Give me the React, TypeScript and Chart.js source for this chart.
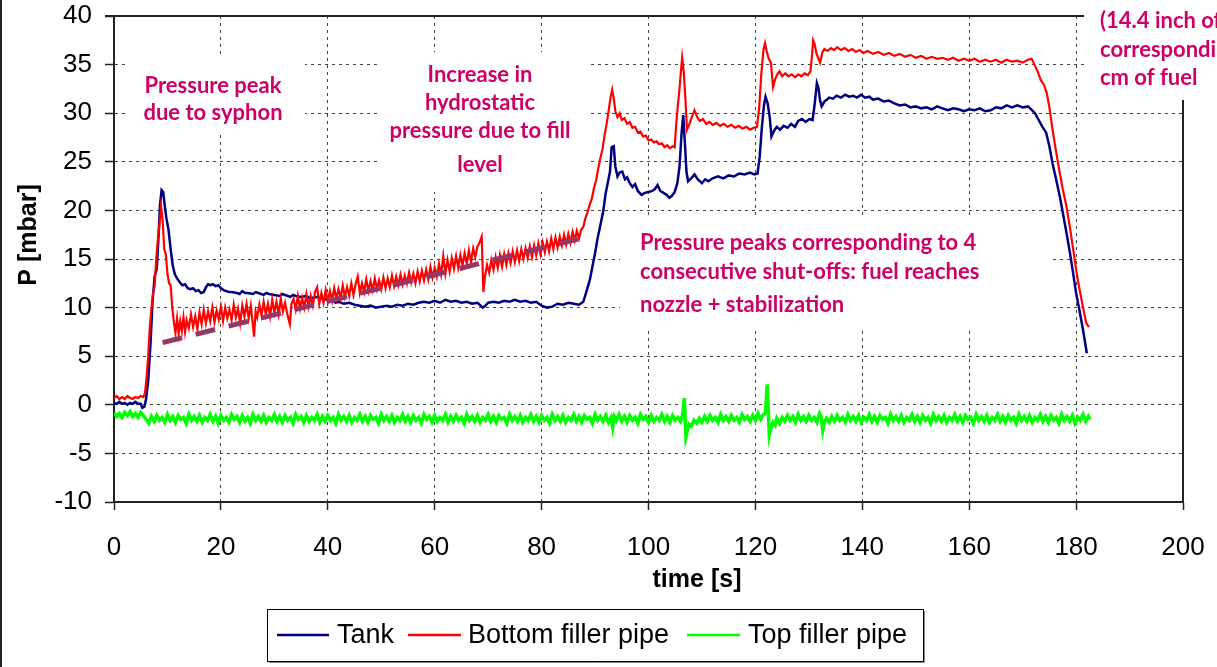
import React, { useEffect, useRef } from 'react';
import { Chart, registerables } from 'chart.js';

Chart.register(...registerables);

// ---------- data ----------
const seriesNames = ['Tank', 'Bottom filler pipe', 'Top filler pipe'];
const seriesColors = ['#000080', '#FF0000', '#00FF00'];
const trendColor = '#94386A';

const xTickValues = [0, 20, 40, 60, 80, 100, 120, 140, 160, 180, 200];
const yTickValues = [-10, -5, 0, 5, 10, 15, 20, 25, 30, 35, 40];

const tankSeries: [number, number][] = [
  [0, 0.2], [0.5, 0.1], [1, 0.3], [1.5, 0.1], [2, 0.2], [2.5, 0.0], [3, 0.2], [3.5, 0.1], [4, 0.3], [4.5, 0.1],
  [5, 0.1], [5.3, -0.3], [5.7, -0.2], [6, 0.6], [6.4, 2.5], [6.8, 6], [7.2, 10.5], [7.6, 13.2], [8, 14], [8.3, 17],
  [8.6, 20.5], [8.9, 22.1], [9.2, 21.9], [9.5, 20.5], [9.8, 19.2], [10.2, 18], [10.6, 16], [11, 14.3], [11.4, 13.4], [11.8, 13],
  [12.3, 12.6], [12.8, 12.3], [13.3, 12.4], [13.8, 12], [14.3, 11.9], [14.8, 12], [15.3, 11.7], [15.8, 11.8], [16.3, 11.5], [16.8, 11.6],
  [17.2, 12.1], [17.6, 12.4], [18, 12.3], [18.5, 12.4], [19, 12.2], [19.5, 12.3], [20, 12.0], [20.5, 11.8], [21, 11.7], [21.5, 11.6],
  [22, 11.6], [23, 11.5], [23.5, 11.4], [24, 11.7], [24.5, 11.5], [25, 11.5], [26, 11.4], [26.5, 11.6], [27, 11.5], [28, 11.3],
  [28.5, 11.5], [29, 11.4], [30, 11.3], [31, 11.2], [31.5, 11.4], [32, 11.3], [33, 11.1], [33.5, 11.3], [34, 11.2], [35, 11.1],
  [36, 11.2], [36.5, 11.0], [37, 11.0], [38, 11.1], [39, 10.9], [40, 10.8], [41, 10.7], [41.5, 10.5], [42, 10.6], [43, 10.4],
  [44, 10.5], [45, 10.3], [46, 10.2], [47, 10.1], [48, 10.2], [49, 10.0], [50, 10.1], [51, 10.2], [52, 10.1], [53, 10.3],
  [54, 10.2], [55, 10.4], [56, 10.3], [57, 10.5], [58, 10.6], [59, 10.5], [60, 10.7], [61, 10.5], [62, 10.8], [63, 10.6],
  [64, 10.7], [65, 10.5], [66, 10.6], [67, 10.4], [68, 10.5], [69, 10.0], [69.5, 10.2], [70, 10.5], [71, 10.6], [72, 10.5],
  [73, 10.7], [74, 10.6], [75, 10.8], [76, 10.6], [77, 10.7], [78, 10.5], [79, 10.6], [80, 10.2], [81, 10.0], [82, 10.1],
  [83, 10.4], [84, 10.3], [85, 10.5], [86, 10.4], [87, 10.3], [87.8, 10.6], [88.3, 11.5], [89, 12.8], [89.5, 14.2], [90, 15.6],
  [90.5, 17.2], [91, 18.5], [91.5, 19.8], [92, 21.8], [92.4, 22.9], [92.8, 24], [93.1, 26.5], [93.5, 26.6], [93.8, 24.5], [94.2, 23.5],
  [94.6, 23.9], [95.1, 24], [95.6, 23.2], [96, 23.4], [96.5, 22.8], [97, 22.4], [97.5, 22.7], [98, 22], [98.7, 21.6], [99.3, 21.8],
  [100, 21.9], [100.7, 22], [101.2, 22.2], [101.7, 22.6], [102.2, 22], [102.8, 21.8], [103.4, 21.6], [103.9, 21.3], [104.4, 21.5], [104.9, 21.9],
  [105.4, 22.8], [105.8, 24.5], [106.2, 28], [106.5, 29.8], [106.8, 27], [107.1, 24], [107.4, 23], [108, 23.3], [108.6, 23.7], [109.2, 23.2],
  [110, 22.8], [110.6, 23.2], [111.2, 23], [112, 23.3], [113, 23.5], [114, 23.3], [115, 23.6], [116, 23.5], [117, 23.8], [118, 23.7],
  [119, 23.9], [119.8, 23.7], [120.4, 23.8], [120.8, 25.5], [121.2, 28.5], [121.6, 30.8], [121.9, 31.7], [122.3, 31], [122.7, 29.5], [123, 27.6],
  [123.5, 28.2], [124, 28.6], [124.6, 28.3], [125.3, 28.7], [126, 28.5], [126.7, 28.9], [127.4, 28.6], [128, 29.2], [128.7, 29.4], [129.4, 29.1],
  [130.1, 29.4], [130.7, 29.3], [131.1, 31], [131.5, 33.1], [131.8, 32.6], [132.1, 31.3], [132.4, 30.7], [132.9, 31.2], [133.4, 31.4], [133.8, 31.6],
  [134.5, 31.5], [135.2, 31.8], [136, 31.6], [136.8, 31.9], [137.5, 31.7], [138.3, 31.8], [139, 31.6], [139.8, 31.9], [140.5, 31.6], [141.3, 31.7],
  [142, 31.4], [143, 31.5], [144, 31.2], [145, 31.3], [146, 31.0], [147, 30.8], [148, 30.9], [149, 30.6], [150, 30.7], [151, 30.5],
  [152, 30.6], [153, 30.4], [154, 30.7], [155, 30.5], [156, 30.3], [157, 30.5], [158, 30.4], [159, 30.2], [160, 30.4], [161, 30.3],
  [162, 30.5], [163, 30.2], [164, 30.3], [165, 30.6], [166, 30.5], [167, 30.8], [168, 30.6], [169, 30.8], [170, 30.6], [171, 30.7],
  [171.6, 30.4], [172.3, 30], [173, 29.3], [173.7, 28.6], [174.4, 28], [175, 26.6], [175.6, 24.8], [176.3, 23.1], [177, 21.3], [177.6, 19.5],
  [178.2, 17.7], [178.8, 15.8], [179.4, 13.7], [180, 11.5], [180.6, 9.8], [181.2, 8], [181.6, 6.7], [182, 5.3],
];

const bottomSeries: [number, number][] = [
  [0, 0.7], [0.5, 0.9], [1, 0.6], [1.5, 0.8], [2, 0.6], [2.5, 0.9], [3, 0.7], [3.5, 0.6], [4, 0.8], [4.5, 0.7],
  [5, 0.9], [5.5, 0.8], [5.8, 1.2], [6.1, 2.8], [6.4, 5], [6.7, 8], [7, 9.8], [7.3, 11.5], [7.6, 12.2], [7.9, 15],
  [8.2, 17], [8.5, 18.5], [8.8, 20.4], [9.1, 19], [9.4, 16], [9.7, 15.5], [10, 13.5], [10.3, 12.5], [10.6, 12.3], [10.9, 10],
  [11.2, 8.5], [11.5, 7.4], [11.8, 8.9], [12.1, 7.3], [12.4, 8.6], [12.7, 7.6], [13, 9.0], [13.3, 7.5], [13.6, 8.7], [14, 7.9],
  [14.4, 9.3], [14.8, 8.0], [15.2, 9.1], [15.6, 7.8], [16, 9.5], [16.4, 8.3], [16.8, 9.8], [17.2, 8.4], [17.6, 9.6], [18, 8.6],
  [18.4, 10.0], [18.8, 8.5], [19.2, 9.7], [19.6, 8.8], [20, 10.1], [20.4, 8.6], [20.8, 10.0], [21.2, 8.9], [21.6, 9.8], [22, 8.7],
  [22.4, 10.3], [22.8, 9.0], [23.2, 9.9], [23.6, 8.4], [24, 10.2], [24.4, 9.1], [24.8, 10.4], [25.2, 8.9], [25.6, 10.2], [26, 8.1],
  [26.2, 7.0], [26.5, 9.6], [26.8, 9.0], [27.2, 10.3], [27.6, 9.2], [28, 10.6], [28.4, 9.3], [28.8, 10.4], [29.2, 9.1], [29.6, 10.8],
  [30, 9.5], [30.4, 10.6], [30.8, 9.3], [31.2, 10.9], [31.6, 9.6], [32, 10.5], [32.4, 9.4], [32.9, 8.3], [33.2, 10.4], [33.6, 10.9],
  [34, 9.8], [34.4, 11.2], [34.8, 9.9], [35.2, 11.0], [35.6, 10.0], [36, 11.4], [36.4, 10.1], [36.8, 11.2], [37.2, 10.2], [37.6, 11.6],
  [38, 12.1], [38.4, 10.4], [38.8, 11.5], [39.2, 10.5], [39.6, 11.8], [40, 10.6], [40.4, 11.7], [40.8, 10.7], [41.2, 12.0], [41.6, 10.9],
  [42, 11.9], [42.4, 11.0], [42.8, 12.3], [43.2, 11.1], [43.6, 12.1], [44, 11.2], [44.4, 12.5], [44.8, 11.3], [45.2, 12.4], [45.6, 13.2],
  [46, 11.5], [46.4, 12.5], [46.8, 11.6], [47.2, 12.9], [47.6, 11.7], [48, 12.7], [48.4, 11.8], [48.8, 13.0], [49.2, 11.9], [49.6, 12.8],
  [50, 11.9], [50.4, 13.1], [50.8, 12.0], [51.2, 13.0], [51.6, 12.1], [52, 13.3], [52.4, 12.2], [52.8, 13.2], [53.2, 12.3], [53.6, 13.4],
  [54, 12.4], [54.4, 13.3], [54.8, 12.5], [55.2, 13.6], [55.6, 12.6], [56, 13.5], [56.4, 12.5], [56.8, 13.7], [57.2, 12.7], [57.6, 13.8],
  [58, 12.8], [58.4, 13.9], [58.8, 12.9], [59.2, 14.2], [59.6, 13.1], [60, 14.1], [60.4, 13.2], [60.8, 14.5], [61.2, 13.4], [61.6, 15.3],
  [62, 13.5], [62.4, 14.9], [62.8, 13.7], [63.2, 15.1], [63.6, 14.0], [64, 15.3], [64.4, 14.1], [64.8, 15.4], [65.2, 14.3], [65.6, 15.6],
  [66, 14.5], [66.4, 15.9], [66.8, 14.7], [67.2, 16.1], [67.6, 15.2], [68, 16.3], [68.4, 16.7], [68.8, 17.3], [69.1, 11.6], [69.4, 13.2],
  [69.8, 14.4], [70.2, 13.6], [70.6, 14.9], [71, 13.9], [71.4, 15.2], [71.8, 14.1], [72.2, 15.4], [72.6, 14.2], [73, 15.5], [73.4, 14.4],
  [73.8, 15.6], [74.2, 14.6], [74.6, 15.8], [75, 14.7], [75.4, 15.9], [75.8, 14.8], [76.2, 16.0], [76.6, 15.0], [77, 16.1], [77.4, 15.1],
  [77.8, 16.3], [78.2, 15.2], [78.6, 16.4], [79, 15.4], [79.4, 16.6], [79.8, 15.5], [80.2, 16.7], [80.6, 15.7], [81, 16.8], [81.4, 15.8],
  [81.8, 17.1], [82.2, 16.0], [82.6, 17.2], [83, 16.2], [83.4, 17.3], [83.8, 16.4], [84.2, 17.5], [84.6, 16.5], [85, 17.6], [85.4, 16.7],
  [85.8, 17.8], [86.2, 16.9], [86.6, 17.9], [87, 17.1], [87.4, 18.0], [87.8, 18.3], [88.2, 19.2], [88.6, 19.8], [89, 20.6], [89.4, 21.2],
  [89.8, 22.3], [90.2, 23.1], [90.6, 24.3], [91, 25.4], [91.4, 26.3], [91.8, 27.8], [92.2, 29.0], [92.6, 30.5], [92.9, 31.6], [93.2, 32.4],
  [93.5, 31.5], [93.8, 30.2], [94.2, 29.6], [94.6, 30.0], [95, 29.3], [95.5, 29.5], [96, 28.9], [96.5, 29.1], [97, 28.5], [97.5, 28.6],
  [98, 28.0], [98.5, 28.1], [99, 27.6], [99.5, 27.7], [100, 27.2], [100.5, 27.3], [101, 27.0], [101.5, 27.1], [102, 26.8], [102.5, 26.9],
  [103, 26.5], [103.5, 26.7], [104, 26.4], [104.5, 26.6], [104.9, 26.5], [105.2, 29], [105.5, 30.8], [105.8, 32.5], [106.1, 34.5], [106.3, 35.7],
  [106.6, 34.2], [106.9, 31.5], [107.2, 28.3], [107.6, 28.8], [108.1, 29.6], [108.6, 30.3], [109.1, 29.6], [109.6, 29.2], [110.2, 29.4], [110.8, 28.9],
  [111.4, 29.1], [112, 28.8], [112.7, 29.0], [113.4, 28.7], [114.1, 28.9], [114.8, 28.6], [115.5, 28.8], [116.2, 28.5], [116.9, 28.7], [117.6, 28.4],
  [118.3, 28.6], [119, 28.3], [119.7, 28.5], [120.3, 28.6], [120.7, 30.5], [121.1, 34], [121.5, 36.5], [121.8, 37.2], [122.1, 36.4], [122.5, 35.6],
  [122.9, 35.2], [123.3, 32.7], [123.7, 33.5], [124.1, 34.0], [124.5, 34.3], [125, 33.8], [125.6, 34.1], [126.2, 33.8], [126.8, 34.0], [127.4, 33.7],
  [128, 34.0], [128.6, 33.8], [129.2, 34.1], [129.8, 33.9], [130.3, 34.3], [130.6, 36], [130.8, 37.5], [131.1, 37.1], [131.4, 36.2], [131.8, 35.6],
  [132.1, 35.2], [132.5, 36.2], [132.9, 36.6], [133.5, 36.4], [134.1, 36.7], [134.7, 36.5], [135.3, 36.8], [136, 36.5], [136.7, 36.7], [137.4, 36.4],
  [138.1, 36.6], [138.8, 36.3], [139.5, 36.5], [140.2, 36.2], [141, 36.4], [142, 36.1], [143, 36.3], [144, 36.0], [145, 36.2], [146, 35.9],
  [147, 36.1], [148, 35.8], [149, 36.0], [150, 35.7], [151, 35.9], [152, 35.6], [153, 35.8], [154, 35.6], [155, 35.7], [156, 35.5],
  [157, 35.7], [158, 35.4], [159, 35.6], [160, 35.4], [161, 35.6], [162, 35.3], [163, 35.5], [164, 35.3], [165, 35.5], [166, 35.2],
  [167, 35.5], [168, 35.3], [169, 35.4], [170, 35.2], [171, 35.5], [171.7, 35.6], [172.2, 35], [172.8, 34.3], [173.4, 33.4], [174, 32.9],
  [174.5, 32.1], [175, 30.6], [175.6, 28.3], [176.3, 25.9], [176.9, 24], [177.5, 22.2], [178.2, 20.4], [178.8, 18.4], [179.4, 16.2], [180, 13.9],
  [180.6, 12.0], [181.2, 10.3], [181.9, 8.4], [182.4, 8.0],
];

const topSeries: [number, number][] = [
  [0, -0.8], [0.5, -1.2], [1, -0.9], [1.5, -1.3], [2, -0.8], [2.5, -1.1], [3, -0.7], [3.5, -1.2], [4, -0.9], [4.5, -1.3],
  [5, -0.8], [5.5, -1.1], [6, -1.5], [6.5, -1.9], [7, -1.2], [7.5, -1.7], [8, -1.1], [8.5, -1.6], [9, -1.3], [9.5, -1.8],
  [10, -1.0], [10.5, -1.6], [11, -1.2], [11.5, -1.8], [12, -1.1], [12.5, -1.5], [13, -1.3], [13.5, -1.9], [14, -1.0], [14.5, -1.6],
  [15, -1.2], [15.5, -1.7], [16, -1.1], [16.5, -1.8], [17, -1.3], [17.5, -1.6], [18, -1.0], [18.5, -1.7], [19, -1.2], [19.5, -1.9],
  [20, -1.1], [20.5, -1.6], [21, -1.3], [21.5, -1.8], [22, -1.0], [22.5, -1.5], [23, -1.2], [23.5, -1.8], [24, -1.1], [24.5, -1.7],
  [25, -1.3], [25.5, -1.9], [26, -1.0], [26.5, -1.6], [27, -1.2], [27.5, -1.7], [28, -1.1], [28.5, -1.8], [29, -1.3], [29.5, -1.6],
  [30, -1.0], [30.5, -1.7], [31, -1.2], [31.5, -1.8], [32, -1.1], [32.5, -1.6], [33, -1.3], [33.5, -1.9], [34, -1.0], [34.5, -1.5],
  [35, -1.2], [35.5, -1.8], [36, -1.1], [36.5, -1.7], [37, -1.3], [37.5, -1.6], [38, -1.0], [38.5, -1.8], [39, -1.2], [39.5, -1.7],
  [40, -1.1], [40.5, -1.6], [41, -1.3], [41.5, -1.9], [42, -1.0], [42.5, -1.6], [43, -1.2], [43.5, -1.7], [44, -1.1], [44.5, -1.8],
  [45, -1.3], [45.5, -1.6], [46, -1.0], [46.5, -1.7], [47, -1.2], [47.5, -1.8], [48, -1.1], [48.5, -1.5], [49, -1.3], [49.5, -1.9],
  [50, -1.0], [50.5, -1.6], [51, -1.2], [51.5, -1.7], [52, -1.1], [52.5, -1.8], [53, -1.3], [53.5, -1.6], [54, -1.0], [54.5, -1.7],
  [55, -1.2], [55.5, -1.8], [56, -1.1], [56.5, -1.6], [57, -1.3], [57.5, -1.9], [58, -1.0], [58.5, -1.5], [59, -1.2], [59.5, -1.8],
  [60, -1.1], [60.5, -1.7], [61, -1.3], [61.5, -1.6], [62, -1.0], [62.5, -1.8], [63, -1.2], [63.5, -1.7], [64, -1.1], [64.5, -1.6],
  [65, -1.3], [65.5, -1.9], [66, -1.0], [66.5, -1.6], [67, -1.2], [67.5, -1.7], [68, -1.1], [68.5, -1.8], [69, -1.3], [69.5, -1.6],
  [70, -1.0], [70.5, -1.7], [71, -1.2], [71.5, -1.8], [72, -1.1], [72.5, -1.5], [73, -1.3], [73.5, -1.9], [74, -1.0], [74.5, -1.6],
  [75, -1.2], [75.5, -1.7], [76, -1.1], [76.5, -1.8], [77, -1.3], [77.5, -1.6], [78, -1.0], [78.5, -1.7], [79, -1.2], [79.5, -1.8],
  [80, -1.1], [80.5, -1.6], [81, -1.3], [81.5, -1.9], [82, -1.0], [82.5, -1.6], [83, -1.2], [83.5, -1.7], [84, -1.1], [84.5, -1.8],
  [85, -1.3], [85.5, -1.6], [86, -1.0], [86.5, -1.7], [87, -1.2], [87.5, -1.8], [88, -1.1], [88.5, -1.5], [89, -1.3], [89.5, -1.9],
  [90, -1.0], [90.5, -1.6], [91, -1.2], [91.5, -1.7], [92, -1.1], [92.5, -1.8], [93, -1.3], [93.3, -2.3], [93.6, -1.2], [94, -1.6],
  [94.5, -1.0], [95, -1.7], [95.5, -1.2], [96, -1.8], [96.5, -1.1], [97, -1.6], [97.5, -1.3], [98, -1.9], [98.5, -1.0], [99, -1.5],
  [99.5, -1.2], [100, -1.8], [100.5, -1.1], [101, -1.7], [101.5, -1.3], [102, -1.6], [102.5, -1.0], [103, -1.7], [103.5, -1.2], [104, -1.8],
  [104.5, -1.1], [105, -1.6], [105.5, -1.3], [106, -1.7], [106.4, -1.0], [106.7, 0.7], [107, -3.3], [107.3, -2.6], [107.6, -2.0], [108, -2.2],
  [108.5, -1.6], [109, -1.9], [109.5, -1.4], [110, -1.8], [110.5, -1.2], [111, -1.7], [111.5, -1.1], [112, -1.6], [112.5, -1.3], [113, -1.8],
  [113.5, -1.0], [114, -1.6], [114.5, -1.2], [115, -1.7], [115.5, -1.1], [116, -1.6], [116.5, -1.3], [117, -1.8], [117.5, -1.0], [118, -1.5],
  [118.5, -1.2], [119, -1.7], [119.5, -1.1], [120, -1.6], [120.5, -0.9], [121, -1.5], [121.5, -1.0], [121.9, -0.8], [122.2, 2.1], [122.6, -3.1],
  [122.9, -2.4], [123.3, -1.8], [123.7, -2.1], [124, -1.4], [124.5, -1.9], [125, -1.3], [125.5, -1.7], [126, -1.1], [126.5, -1.6], [127, -1.2],
  [127.5, -1.8], [128, -1.0], [128.5, -1.6], [129, -1.2], [129.5, -1.7], [130, -1.1], [130.5, -1.6], [131, -1.3], [131.5, -1.8], [132, -0.9],
  [132.3, -1.2], [132.6, -2.6], [132.9, -1.8], [133.3, -1.4], [133.8, -1.8], [134.3, -1.2], [134.8, -1.7], [135.3, -1.1], [135.8, -1.6], [136.3, -1.3],
  [136.8, -1.8], [137.3, -1.0], [137.8, -1.6], [138.3, -1.2], [138.8, -1.7], [139.3, -1.1], [139.8, -1.8], [140.3, -1.3], [140.8, -1.6], [141.3, -1.0],
  [141.8, -1.7], [142.3, -1.2], [142.8, -1.8], [143.3, -1.1], [143.8, -1.5], [144.3, -1.3], [144.8, -1.9], [145.3, -1.0], [145.8, -1.6], [146.3, -1.2],
  [146.8, -1.7], [147.3, -1.1], [147.8, -1.8], [148.3, -1.3], [148.8, -1.6], [149.3, -1.0], [149.8, -1.7], [150.3, -1.2], [150.8, -1.8], [151.3, -1.1],
  [151.8, -1.6], [152.3, -1.3], [152.8, -1.9], [153.3, -1.0], [153.8, -1.6], [154.3, -1.2], [154.8, -1.7], [155.3, -1.1], [155.8, -1.8], [156.3, -1.3],
  [156.8, -1.6], [157.3, -1.0], [157.8, -1.7], [158.3, -1.2], [158.8, -1.8], [159.3, -1.1], [159.8, -1.5], [160.3, -1.3], [160.8, -1.9], [161.3, -1.0],
  [161.8, -1.6], [162.3, -1.2], [162.8, -1.7], [163.3, -1.1], [163.8, -1.8], [164.3, -1.3], [164.8, -1.6], [165.3, -1.0], [165.8, -1.7], [166.3, -1.2],
  [166.8, -1.8], [167.3, -1.1], [167.8, -1.6], [168.3, -1.3], [168.8, -1.9], [169.3, -1.0], [169.8, -1.6], [170.3, -1.2], [170.8, -1.7], [171.3, -1.1],
  [171.8, -1.8], [172.3, -1.3], [172.8, -1.6], [173.3, -1.0], [173.8, -1.7], [174.3, -1.2], [174.8, -1.8], [175.3, -1.1], [175.8, -1.6], [176.3, -1.3],
  [176.8, -1.9], [177.3, -1.0], [177.8, -1.6], [178.3, -1.2], [178.8, -1.7], [179.3, -1.1], [179.8, -1.9], [180.3, -1.3], [180.8, -1.6], [181.3, -1.0],
  [181.8, -1.7], [182.3, -1.2], [182.6, -1.5],
];

const trendSeries: [number, number][] = [[9.1, 6.4], [87.8, 17.2]];

const yAxisTitle = 'P [mbar]';
const xAxisTitle = 'time [s]';
const noteSyphon = ['Pressure peak', 'due to syphon'];
const noteHydro = ['Increase in', 'hydrostatic', 'pressure due to fill', 'level'];
const noteShutoff = ['Pressure peaks corresponding to 4', 'consecutive shut-offs: fuel reaches', 'nozzle + stabilization'];
const noteFuel = ['(14.4 inch of fuel', 'corresponding to 36.6', 'cm of fuel'];

// ---------- helpers ----------
const toXY = (s: [number, number][]) => s.map(([x, y]) => ({ x, y }));
const SANS = '"Liberation Sans", Arial, sans-serif';
const NOTE_FONT = 'bold 22px Lato, "Open Sans", sans-serif';
const NOTE_COLOR = '#CC0066';

const decorPlugin = {
  id: 'decor',
  beforeDatasetsDraw(chart: any) {
    const { ctx, chartArea: a } = chart;
    ctx.save();
    ctx.strokeStyle = '#222';
    ctx.lineWidth = 2;
    ctx.beginPath();
    ctx.moveTo(a.left - 9, a.top);
    ctx.lineTo(a.right, a.top);
    ctx.lineTo(a.right, a.bottom);
    ctx.stroke();
    ctx.fillStyle = '#ffffff';
    ctx.fillRect(125, 58, 180, 76);
    ctx.fillRect(378, 52, 210, 140);
    ctx.fillRect(620, 217, 433, 111);
    ctx.fillRect(1084, 0, 140, 100);
    ctx.restore();
  },
  afterDraw(chart: any) {
    const { ctx } = chart;
    ctx.save();
    ctx.fillStyle = NOTE_COLOR;
    ctx.font = NOTE_FONT;
    ctx.textBaseline = 'alphabetic';
    const notes = [
      { lines: noteSyphon, x: 213, ys: [93, 120], align: 'center' },
      { lines: noteHydro, x: 480, ys: [82, 110, 138, 172], align: 'center' },
      { lines: noteShutoff, x: 640, ys: [250, 279, 312], align: 'left' },
      { lines: noteFuel, x: 1100, ys: [28, 57, 85], align: 'left' },
    ];
    for (const n of notes) {
      ctx.textAlign = n.align;
      n.lines.forEach((l: string, i: number) => ctx.fillText(l, n.x, n.ys[i]));
    }
    ctx.fillStyle = '#000';
    ctx.font = `bold 25px ${SANS}`;
    ctx.textAlign = 'center';
    ctx.textBaseline = 'middle';
    ctx.fillText(xAxisTitle, 697, 580);
    ctx.save();
    ctx.translate(29, 235);
    ctx.rotate(-Math.PI / 2);
    ctx.fillText(yAxisTitle, 0, 0);
    ctx.restore();
    const lx = 267, ly = 609, lw = 656, lh = 52;
    ctx.fillStyle = '#fff';
    ctx.fillRect(lx, ly, lw, lh);
    ctx.strokeStyle = '#000';
    ctx.lineWidth = 1;
    ctx.strokeRect(lx + 0.5, ly + 0.5, lw, lh);
    ctx.strokeStyle = '#888';
    ctx.beginPath();
    ctx.moveTo(lx + 2, ly + lh + 1.5);
    ctx.lineTo(lx + lw + 1.5, ly + lh + 1.5);
    ctx.lineTo(lx + lw + 1.5, ly + 2);
    ctx.stroke();
    const items = [
      { x1: 277, x2: 329, tx: 337 },
      { x1: 408, x2: 461, tx: 468 },
      { x1: 687, x2: 740, tx: 748 },
    ];
    ctx.font = `27px ${SANS}`;
    ctx.textAlign = 'left';
    ctx.textBaseline = 'middle';
    items.forEach((it, i) => {
      ctx.strokeStyle = seriesColors[i];
      ctx.lineWidth = 2.5;
      ctx.beginPath();
      ctx.moveTo(it.x1, 635);
      ctx.lineTo(it.x2, 635);
      ctx.stroke();
      ctx.fillStyle = '#000';
      ctx.fillText(seriesNames[i], it.tx, 636);
    });
    ctx.fillStyle = '#222';
    ctx.fillRect(0, 0, 2, chart.height);
    ctx.restore();
  },
};

export default function App() {
  const ref = useRef<HTMLCanvasElement | null>(null);
  useEffect(() => {
    document.body.style.margin = '0';
    const canvas = ref.current!;
    const chart = new Chart(canvas, {
      type: 'line',
      data: {
        datasets: [
          { label: seriesNames[0], data: toXY(tankSeries), borderColor: seriesColors[0], borderWidth: 2.5, pointRadius: 0, tension: 0, order: 2 },
          { label: seriesNames[1], data: toXY(bottomSeries), borderColor: seriesColors[1], borderWidth: 2.2, pointRadius: 0, tension: 0, order: 1 },
          { label: seriesNames[2], data: toXY(topSeries), borderColor: seriesColors[2], borderWidth: 3.5, pointRadius: 0, tension: 0, order: 3 },
          { label: 'trend', data: toXY(trendSeries), borderColor: trendColor, borderWidth: 5, borderDash: [20, 14], pointRadius: 0, tension: 0, order: 0 },
        ],
      },
      options: {
        animation: false,
        responsive: false,
        events: [],
        layout: { padding: { left: 0, top: 16, right: 34, bottom: 95 } },
        plugins: { legend: { display: false }, tooltip: { enabled: false }, title: { display: false } },
        scales: {
          x: {
            type: 'linear',
            min: 0,
            max: 200,
            afterBuildTicks: (s: any) => { s.ticks = xTickValues.map((v) => ({ value: v })); },
            afterFit: (s: any) => { s.height = 70; s.paddingLeft = 0; s.paddingRight = 0; s.paddingTop = 0; s.paddingBottom = 0; },
            ticks: { color: '#000', font: { family: SANS, size: 26 }, padding: 22, maxRotation: 0, autoSkip: false },
            grid: { color: '#444', lineWidth: 1, tickLength: 8, tickColor: '#222', tickWidth: 1.5, tickBorderDash: [] },
            border: { display: true, color: '#222', width: 2, dash: [3, 4] },
          },
          y: {
            type: 'linear',
            min: -10,
            max: 40,
            afterBuildTicks: (s: any) => { s.ticks = yTickValues.map((v) => ({ value: v })); },
            afterFit: (s: any) => { s.width = 114; s.paddingLeft = 0; s.paddingRight = 0; s.paddingTop = 0; s.paddingBottom = 0; },
            ticks: { color: '#000', font: { family: SANS, size: 26 }, padding: 13, autoSkip: false },
            grid: { color: '#444', lineWidth: 1, tickLength: 9, tickColor: '#222', tickWidth: 1.5, tickBorderDash: [] },
            border: { display: true, color: '#222', width: 2, dash: [3, 4] },
          },
        },
      },
      plugins: [decorPlugin],
    } as any);
    return () => chart.destroy();
  }, []);
  return (
    <canvas ref={ref} width={1217} height={667} style={{ display: 'block', width: 1217, height: 667 }} />
  );
}
